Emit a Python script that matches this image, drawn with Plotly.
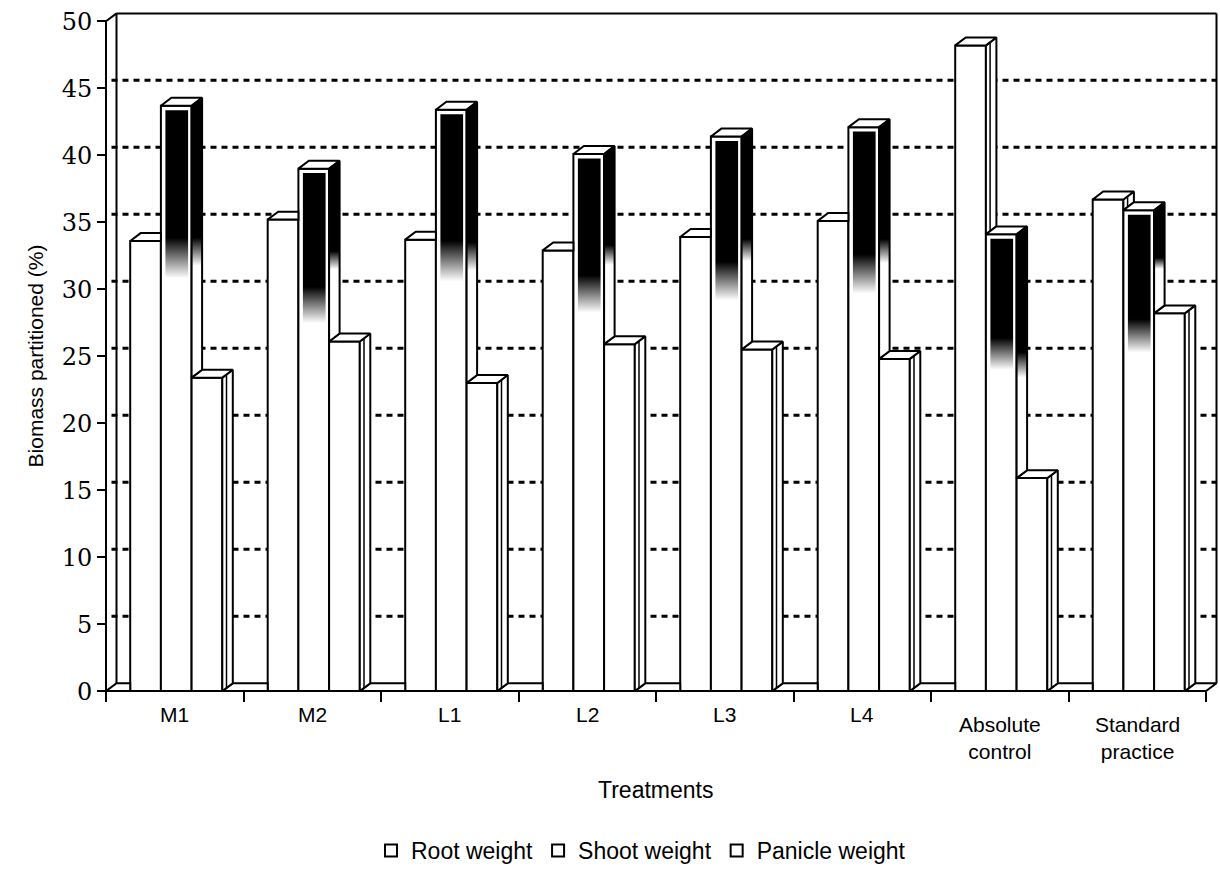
import numpy as np
import plotly.graph_objects as go

# ---------------- data ----------------
categories = ["M1", "M2", "L1", "L2", "L3", "L4", "Absolute<br>control", "Standard<br>practice"]
root_weight = [33.6, 35.2, 33.7, 32.9, 33.9, 35.1, 48.2, 36.7]
shoot_weight = [43.7, 39.0, 43.4, 40.1, 41.4, 42.1, 34.1, 35.9]
panicle_weight = [23.4, 26.1, 23.0, 25.9, 25.5, 24.8, 15.9, 28.2]
series_names = ["Root weight", "Shoot weight", "Panicle weight"]
y_tick_values = [0, 5, 10, 15, 20, 25, 30, 35, 40, 45, 50]
y_tick_labels = ["0", "5", "10", "15", "20", "25", "30", "35", "40", "45", "50"]
x_title = "Treatments"
y_title = "Biomass partitioned (%)"

# ---------------- geometry (pixels) ----------------
W, H = 1220, 872
PX_PER_CAT = 137.5
PX_PER_UNIT = 13.53
X0_PX, Y0_PX = 106, 698          # pixel of the front axes origin
PLOT_L, PLOT_R, PLOT_T, PLOT_B = 96, 1220, 2, 708
PW, PH = PLOT_R - PLOT_L, PLOT_B - PLOT_T

x_range = [(PLOT_L - X0_PX) / PX_PER_CAT, (PLOT_R - X0_PX) / PX_PER_CAT]
y_range = [(Y0_PX - PLOT_B) / PX_PER_UNIT, (Y0_PX - PLOT_T) / PX_PER_UNIT]

bw = 30.7 / PX_PER_CAT            # bar width (category units)
shift = 1.5 / PX_PER_CAT
dxu = 10.5 / PX_PER_CAT           # 3-D depth offset
dyu = 8.0 / PX_PER_UNIT
slope = dyu / dxu
y_max = y_tick_values[-1]

n = len(categories)
centers = np.arange(n) + 0.5
series = [root_weight, shoot_weight, panicle_weight]
offsets = [(k - 1) * bw + shift for k in range(3)]

SANS = "Liberation Sans, Arial, sans-serif"

def py(ypx):
    return (PLOT_B - ypx) / PH

def px(xpx):
    return (xpx - PLOT_L) / PW

fig = go.Figure()

# front faces: the real bars
for k in range(3):
    fig.add_trace(go.Bar(
        x=centers + offsets[k], y=series[k], width=bw, name=series_names[k],
        marker=dict(color="white", line=dict(color="black", width=2)),
        customdata=[c.replace("<br>", " ") for c in categories],
        hovertemplate="%{customdata}<br>" + series_names[k] + ": %{y}%<extra></extra>",
    ))

# ---------------- 3-D decoration derived from the data ----------------
def add_poly(xs, ys, pts):
    for (a, b) in pts:
        xs.append(a); ys.append(b)
    xs.append(pts[0][0]); ys.append(pts[0][1])
    xs.append(None); ys.append(None)

floor_x, floor_y = [], []
for g in range(n + 1):
    xa = 0.0 if g == 0 else centers[g - 1] + offsets[2] + bw / 2
    xb = float(n) if g == n else centers[g] + offsets[0] - bw / 2
    if g == n:
        pts = [(xa, 0), (xb, 0), (xb + dxu, dyu), (xa + dxu, dyu)]
    else:
        pts = [(xa, 0), (xb, 0), (xb, dyu), (xa + dxu, dyu)]
    add_poly(floor_x, floor_y, pts)

top_x, top_y = [], []
side_x, side_y = [], []
inner_x, inner_y = [], []
grad_traces = []
for i in range(n):
    for k in range(3):
        v = series[k][i]
        L = centers[i] + offsets[k] - bw / 2
        R = L + bw
        nv = series[k + 1][i] if k < 2 else 0.0
        # top face (clipped by the next bar)
        if nv <= v:
            pts = [(L, v), (R, v), (R + dxu, v + dyu), (L + dxu, v + dyu)]
        elif nv < v + dyu:
            pts = [(L, v), (R, v), (R, nv), (R + (v + dyu - nv) / slope, v + dyu), (L + dxu, v + dyu)]
        else:
            pts = [(L, v), (R, v), (R, v + dyu), (L + dxu, v + dyu)]
        add_poly(top_x, top_y, pts)
        # side face
        if v > nv:
            spts = [(R, nv), (R, v), (R + dxu, v + dyu), (R + dxu, nv + dyu)]
            if k == 1:
                grad_traces.append(go.Scatter(
                    x=[p[0] for p in spts] + [spts[0][0]], y=[p[1] for p in spts] + [spts[0][1]],
                    mode="lines", fill="toself", line=dict(color="black", width=2),
                    fillgradient=dict(type="vertical",
                                      colorscale=[[0, "white"], [0.40, "white"], [0.50, "black"], [1, "black"]]),
                    hoverinfo="skip", showlegend=False))
            else:
                add_poly(side_x, side_y, spts)
                xi = R + 0.4 * dxu
                inner_x += [xi, xi, None]
                inner_y += [nv + 0.4 * dyu, v + 0.4 * dyu, None]
        # shaded shoot front face
        if k == 1:
            li = L + 4.5 / PX_PER_CAT
            ri = R - 3.5 / PX_PER_CAT
            ti = v - 4.5 / PX_PER_UNIT
            bi = 1.0 / PX_PER_UNIT
            grad_traces.append(go.Scatter(
                x=[li, li, ri, ri, li], y=[bi, ti, ti, bi, bi],
                mode="lines", fill="toself", line=dict(width=0, color="rgba(0,0,0,0)"),
                fillgradient=dict(type="vertical",
                                  colorscale=[[0, "white"], [0.71, "white"], [0.78, "black"], [1, "black"]]),
                hoverinfo="skip", showlegend=False))

common = dict(mode="lines", fill="toself", fillcolor="white",
              line=dict(color="black", width=2), hoverinfo="skip", showlegend=False)
fig.add_trace(go.Scatter(x=floor_x, y=floor_y, **common))
fig.add_trace(go.Scatter(x=side_x, y=side_y, **common))
fig.add_trace(go.Scatter(x=top_x, y=top_y, **common))
fig.add_trace(go.Scatter(x=inner_x, y=inner_y, mode="lines", line=dict(color="black", width=1.5),
                         hoverinfo="skip", showlegend=False))
for t in grad_traces:
    fig.add_trace(t)

# ---------------- walls, axes, gridlines ----------------
shapes = []
for v in y_tick_values[1:-1]:
    shapes.append(dict(type="line", xref="x", yref="y", layer="below",
                       x0=dxu - 5 / PX_PER_CAT, x1=n + dxu, y0=v + dyu, y1=v + dyu,
                       line=dict(color="black", width=3, dash="6px,5px")))
blk = dict(color="black", width=2)
shapes += [
    dict(type="line", xref="x", yref="y", x0=0, x1=0, y0=0, y1=y_max, line=blk),
    dict(type="line", xref="x", yref="y", x0=0, x1=n, y0=0, y1=0, line=blk),
    dict(type="line", xref="x", yref="y", x0=dxu, x1=dxu, y0=dyu, y1=y_max + dyu, line=blk),
    dict(type="line", xref="x", yref="y", x0=0, x1=dxu, y0=y_max, y1=y_max + dyu, line=blk),
    dict(type="line", xref="x", yref="y", x0=n + dxu, x1=n + dxu, y0=dyu, y1=y_max + dyu, line=blk),
    dict(type="line", xref="x", yref="y", x0=dxu, x1=n + dxu, y0=y_max + dyu, y1=y_max + dyu, line=blk),
]

annotations = []
for i, c in enumerate(categories):
    ypix = 745 if "<br>" in c else 722
    annotations.append(dict(x=centers[i], xref="x", y=py(ypix), yref="paper", text=c,
                            showarrow=False, xanchor="center", yanchor="middle",
                            font=dict(family=SANS, size=21, color="black")))
annotations.append(dict(x=px(655), xref="paper", y=py(798), yref="paper", text=x_title,
                        showarrow=False, xanchor="center", yanchor="middle",
                        font=dict(family=SANS, size=23, color="black")))
annotations.append(dict(x=px(35), xref="paper", y=py(360), yref="paper", text=y_title, textangle=-90,
                        showarrow=False, xanchor="center", yanchor="middle",
                        font=dict(family=SANS, size=21, color="black")))

fig.update_layout(
    width=W, height=H, autosize=False,
    margin=dict(l=PLOT_L, r=W - PLOT_R, t=PLOT_T, b=H - PLOT_B, pad=0),
    paper_bgcolor="white", plot_bgcolor="white",
    barmode="overlay",
    shapes=shapes, annotations=annotations,
    xaxis=dict(range=x_range, anchor="free", position=(PLOT_B - Y0_PX) / PH,
               tickmode="array", tickvals=list(range(n + 1)), ticks="outside",
               ticklen=10, tickwidth=2, tickcolor="black", showticklabels=False,
               showgrid=False, zeroline=False, showline=False, fixedrange=True),
    yaxis=dict(range=y_range, anchor="free", position=(X0_PX - PLOT_L) / PW,
               tickmode="array", tickvals=y_tick_values, ticktext=y_tick_labels,
               ticks="outside", ticklen=9, tickwidth=2, tickcolor="black",
               tickfont=dict(family="DejaVu Serif, Liberation Serif, serif", size=24, color="black"),
               showgrid=False, zeroline=False, showline=False, fixedrange=True),
    legend=dict(orientation="h", x=px(641), xanchor="center", y=py(859), yanchor="middle",
                font=dict(family=SANS, size=23, color="black"),
                bgcolor="rgba(0,0,0,0)", traceorder="normal", itemwidth=30),
    showlegend=True,
)

fig.write_html("out.html")
